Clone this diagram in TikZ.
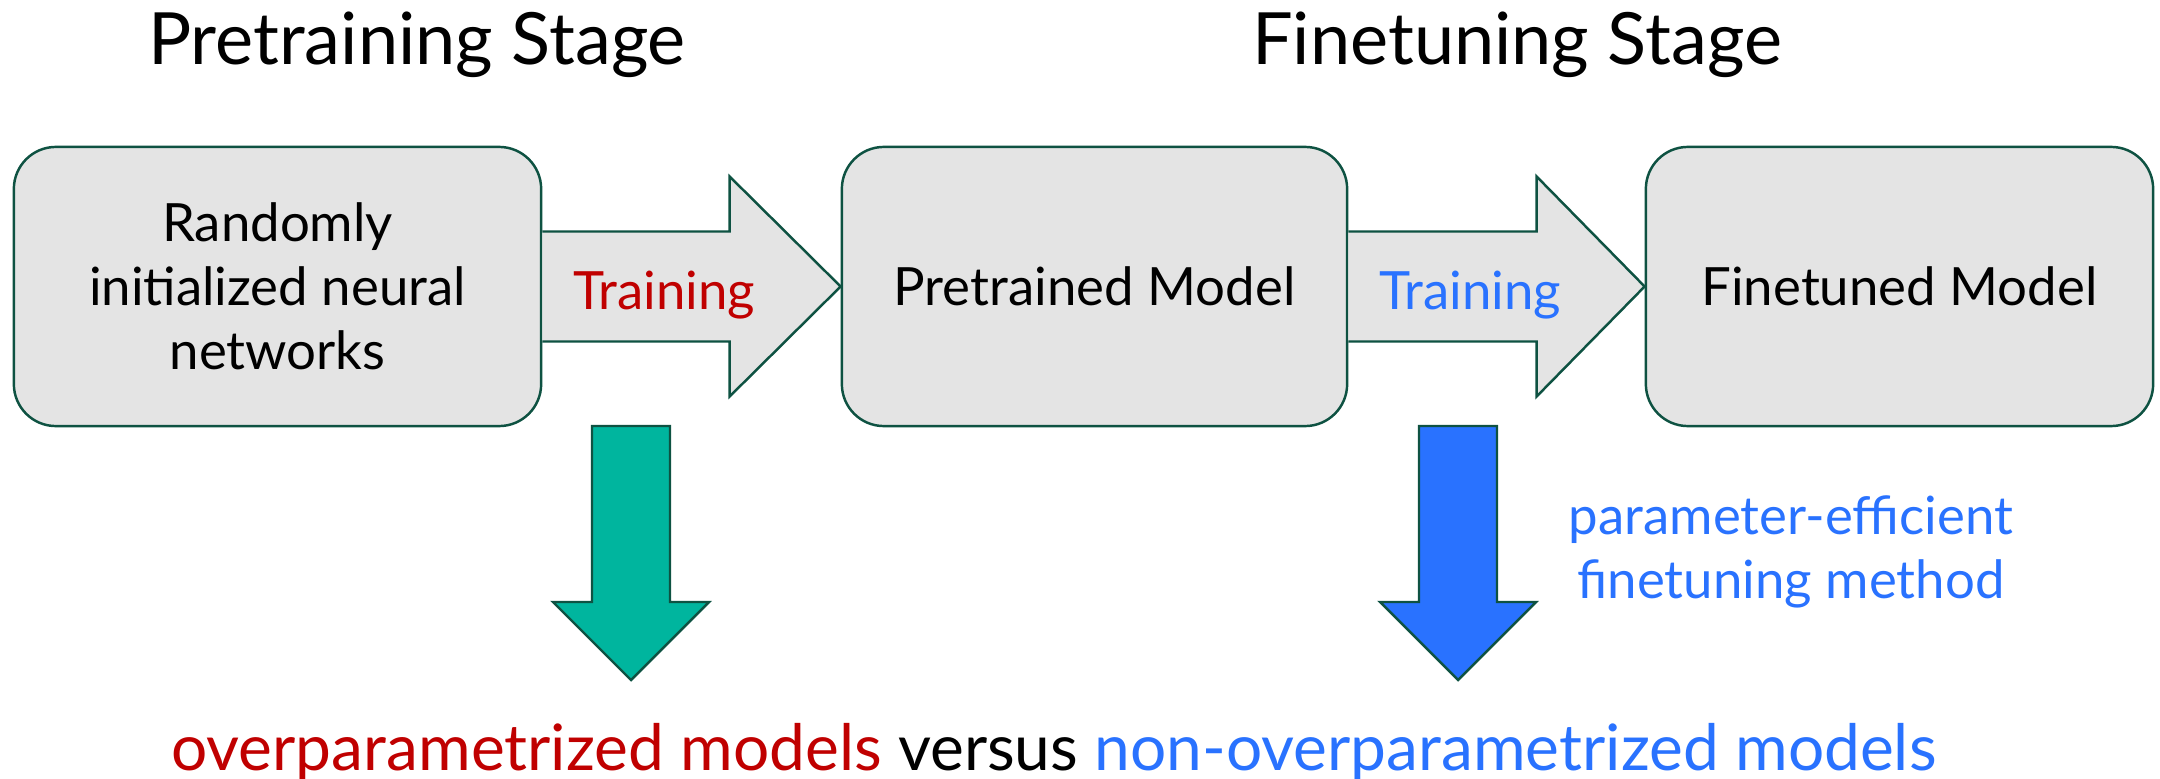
\documentclass[tikz,border=0pt]{standalone}
\usepackage{fontspec}
\setmainfont{Lato}
\usepackage{xcolor}
\usetikzlibrary{calc}

\definecolor{edgegreen}{HTML}{0E5242}
\definecolor{boxgray}{HTML}{E4E4E4}
\definecolor{pretrainred}{HTML}{C00000}
\definecolor{finetuneblue}{HTML}{2972FF}
\definecolor{downteal}{HTML}{00B59E}

\tikzset{
	model/.style={draw=edgegreen, line width=0.7pt, fill=boxgray, rounded corners=0.42cm,
		minimum height=2.79cm, inner sep=0pt, align=center, font=\fontsize{15}{18.2}\selectfont},
	blockarrow/.style={draw=edgegreen, line width=0.7pt, line join=miter},
	stagetitle/.style={anchor=base, font=\fontsize{20.5}{24}\selectfont},
	arrowlabel/.style={anchor=base, font=\fontsize{15}{18.2}\selectfont},
}

\begin{document}
\begin{tikzpicture}[x=0.01cm, y=-0.01cm]
	\useasboundingbox (0,0) rectangle (2160,779);

	% stage headings
	\node[stagetitle] (pretitle) at (417,65) {Pretraining Stage};
	\node[stagetitle] (finetitle) at (1517,65) {Finetuning Stage};

	% the three models
	\node[model, minimum width=5.27cm] (rand) at (277.5,286.5) {Randomly\\ initialized neural\\ networks};
	\node[model, minimum width=5.05cm] (pre) at (1094.5,286.5) {Pretrained Model};
	\node[model, minimum width=5.07cm] (fine) at (1899.5,286.5) {Finetuned Model};

	% training arrows between the models
	\draw[blockarrow, fill=boxgray] ($(rand.east)+(0,-55)$) -- ($(pre.west)+(-111,-55)$)
		-- ($(pre.west)+(-111,-110)$) -- (pre.west) -- ($(pre.west)+(-111,110)$)
		-- ($(pre.west)+(-111,55)$) -- ($(rand.east)+(0,55)$);
	\draw[blockarrow, fill=boxgray] ($(pre.east)+(0,-55)$) -- ($(fine.west)+(-108,-55)$)
		-- ($(fine.west)+(-108,-110)$) -- (fine.west) -- ($(fine.west)+(-108,110)$)
		-- ($(fine.west)+(-108,55)$) -- ($(pre.east)+(0,55)$);
	\node[arrowlabel, text=pretrainred] (train1) at (664,309) {Training};
	\node[arrowlabel, text=finetuneblue] (train2) at (1470,309) {Training};

	% downward arrows
	\coordinate (downL) at (631,426);
	\coordinate (downR) at (1458,426);
	\draw[blockarrow, fill=downteal] ($(downL)+(-39,0)$) -- ($(downL)+(39,0)$) -- ($(downL)+(39,176)$)
		-- ($(downL)+(78,176)$) -- ($(downL)+(0,254)$) -- ($(downL)+(-78,176)$)
		-- ($(downL)+(-39,176)$) -- cycle;
	\draw[blockarrow, fill=finetuneblue] ($(downR)+(-39,0)$) -- ($(downR)+(39,0)$) -- ($(downR)+(39,176)$)
		-- ($(downR)+(78,176)$) -- ($(downR)+(0,254)$) -- ($(downR)+(-78,176)$)
		-- ($(downR)+(-39,176)$) -- cycle;

	\node[align=center, text=finetuneblue, font=\fontsize{15}{18.2}\selectfont] (peft) at (1791,552)
		{parameter-efficient\\ finetuning method};

	% comparison line at the bottom
	\node[anchor=base, font=\fontsize{18.2}{22}\selectfont] (versus) at (1054,770)
		{\textcolor{pretrainred}{overparametrized models} versus \textcolor{finetuneblue}{non-overparametrized models}};
\end{tikzpicture}
\end{document}
